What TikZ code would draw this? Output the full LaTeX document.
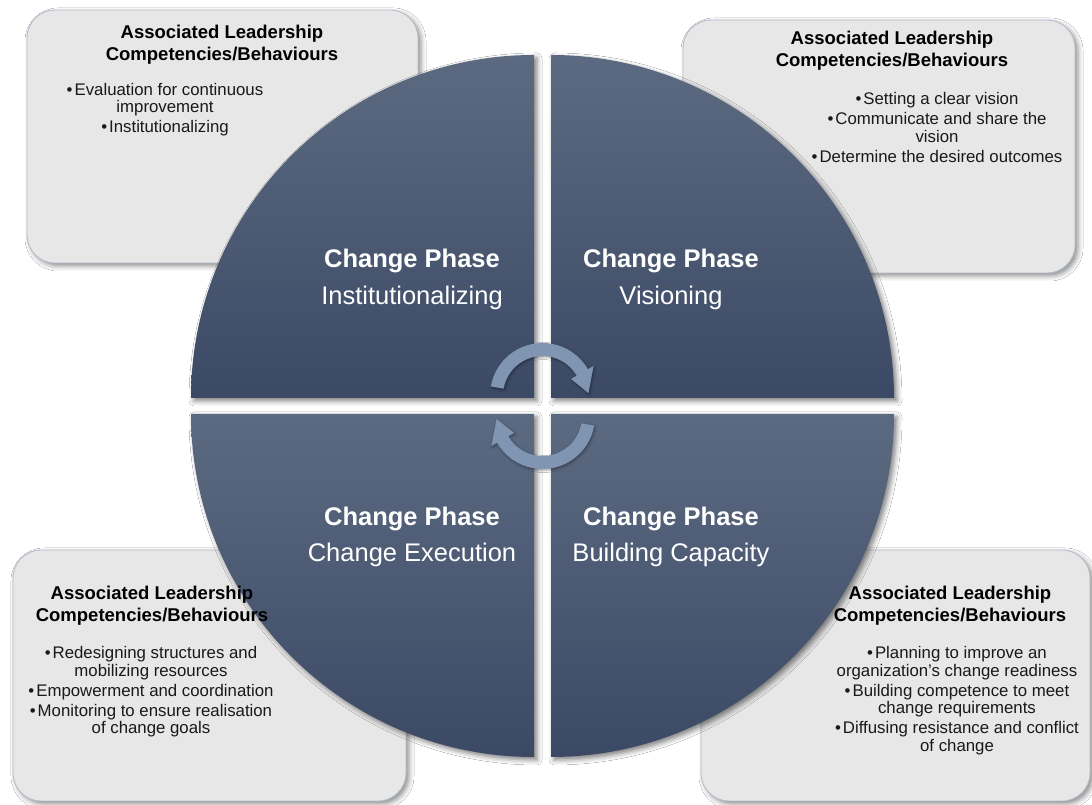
\documentclass[tikz,border=0pt]{standalone}
\usepackage{fontspec}
\setmainfont{Liberation Sans}
\usetikzlibrary{shadows.blur,calc}

\definecolor{quadtop}{HTML}{5C6A81}
\definecolor{quadbot}{HTML}{3B4965}
\definecolor{boxfill}{HTML}{E7E7E7}
\definecolor{boxline}{HTML}{B3BECC}
\definecolor{arrowfill}{HTML}{7F95B1}

% bullet with a thin gap before the item text
\newcommand{\itemdot}{•\hspace{2pt}}

\tikzset{
  x=1pt, y=1pt,
  infobox/.style={fill=boxfill, draw=boxline, line width=0.9pt, rounded corners=28pt,
    blur shadow={shadow xshift=3pt, shadow yshift=-3pt, shadow blur radius=5pt, shadow opacity=45}},
  quadrant/.style={top color=quadtop, bottom color=quadbot,
    blur shadow={shadow xshift=3pt, shadow yshift=-3pt, shadow blur radius=5pt, shadow opacity=50}},
  % multi-line nodes are anchored at the baseline of their last line
  boxtitle/.style={anchor=base, align=center, inner sep=0pt,
    font=\fontsize{18.5}{22}\selectfont\bfseries, text=black},
  boxlist/.style={anchor=base, align=center, inner sep=0pt,
    font=\fontsize{16.8}{17.5}\selectfont, text=black!90},
  phasehead/.style={anchor=base, inner sep=0pt,
    font=\fontsize{25.5}{30}\selectfont\bfseries, text=white},
  phasename/.style={anchor=base, inner sep=0pt,
    font=\fontsize{25.5}{30}\selectfont, text=white},
  pics/cyclearrow/.style={code={
    \fill[arrowfill, blur shadow={shadow xshift=1pt, shadow yshift=-1.5pt, shadow blur radius=2pt, shadow opacity=35}]
      (170:52.5) arc[start angle=170, end angle=30, radius=52.5]
      -- (30:59) -- (3:46) -- (30:33) -- (30:39.5)
      arc[start angle=30, end angle=170, radius=39.5] -- cycle;
  }},
}

\begin{document}
\begin{tikzpicture}
  % canvas
  \fill[white] (0,0) rectangle (1092,805);
  \useasboundingbox (0,0) rectangle (1092,805);

  % competency panels
  \path[infobox] (27,542) rectangle (418,795);
  \path[infobox] (683,532) rectangle (1075,785);
  \path[infobox] (13,4) rectangle (406,255);
  \path[infobox] (701,4) rectangle (1090,255);

  % four quarter-circle phases
  \path[quadrant] (534,407) -- ++(0,343) arc[start angle=90, end angle=180, radius=343] -- cycle;
  \path[quadrant] (551,407) -- ++(343,0) arc[start angle=0, end angle=90, radius=343] -- cycle;
  \path[quadrant] (534,391) -- ++(-343,0) arc[start angle=180, end angle=270, radius=343] -- cycle;
  \path[quadrant] (551,391) -- ++(0,-343) arc[start angle=270, end angle=360, radius=343] -- cycle;

  % phase labels
  \node[phasehead] (h1) at (412,537) {Change Phase};
  \node[phasename] (n1) at (412,500) {Institutionalizing};
  \node[phasehead] (h2) at (671,537) {Change Phase};
  \node[phasename] (n2) at (671,500) {Visioning};
  \node[phasehead] (h3) at (412,279) {Change Phase};
  \node[phasename] (n3) at (412,243) {Change Execution};
  \node[phasehead] (h4) at (671,279) {Change Phase};
  \node[phasename] (n4) at (671,243) {Building Capacity};

  % cycle arrows
  \pic (upperarrow) at (542.5,409.5) {cyclearrow};
  \pic[rotate=180] (lowerarrow) at (542.5,388.5) {cyclearrow};

  % panel texts
  \node[boxtitle] (t1) at (222,744.5) {Associated Leadership\\Competencies/Behaviours};
  \node[boxlist] (l1) at (165,672) {\itemdot Evaluation for continuous\\improvement\\[2.5pt]\itemdot Institutionalizing};

  \node[boxtitle] (t2) at (892,738.5) {Associated Leadership\\Competencies/Behaviours};
  \node[boxlist] (l2) at (937,642.5) {\itemdot Setting a clear vision\\[2.5pt]\itemdot Communicate and share the\\vision\\[2.5pt]\itemdot Determine the desired outcomes};

  \node[boxtitle] (t3) at (152,183.5) {Associated Leadership\\Competencies/Behaviours};
  \node[boxlist] (l3) at (151,71.2) {\itemdot Redesigning structures and\\mobilizing resources\\[2.5pt]\itemdot Empowerment and coordination\\[2.5pt]\itemdot Monitoring to ensure realisation\\of change goals};

  \node[boxtitle] (t4) at (950,183.5) {Associated Leadership\\Competencies/Behaviours};
  \node[boxlist] (l4) at (957,53.5) {\itemdot Planning to improve an\\organization’s change readiness\\[2.5pt]\itemdot Building competence to meet\\change requirements\\[2.5pt]\itemdot Diffusing resistance and conflict\\of change};
\end{tikzpicture}
\end{document}
